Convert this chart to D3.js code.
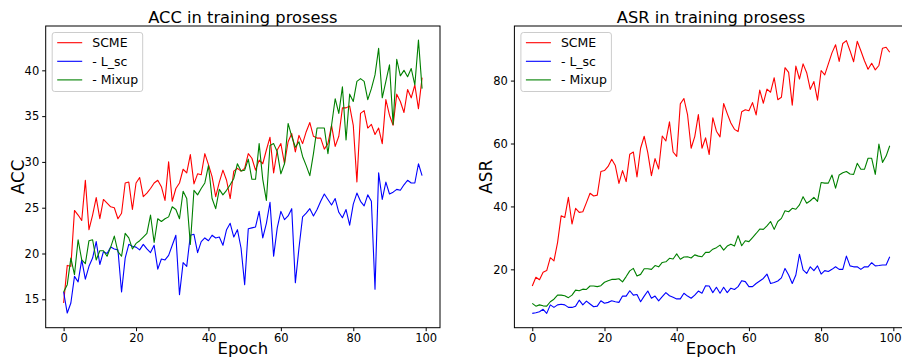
<!DOCTYPE html>
<html>
<head>
<meta charset="utf-8">
<script src="https://cdn.jsdelivr.net/npm/d3@7"></script>
<style>
  body { margin: 0; background: #fff; }
  svg { display: block; font-family: "DejaVu Sans", sans-serif; }
</style>
</head>
<body>
<svg id="chart" width="902" height="358"></svg>
<script>
const epochs = d3.range(100);

const seriesNames = ["SCME", "- L_sc", "- Mixup"];
const xTicks = [0, 20, 40, 60, 80, 100];
const accTicks = [15, 20, 25, 30, 35, 40];
const asrTicks = [20, 40, 60, 80];

const accScme = [
  14.6, 18.7, 18.6, 24.7, 24.2, 23.6, 28.0, 22.6, 24.2, 26.1,
  23.8, 25.9, 25.5, 25.1, 25.0, 23.8, 24.4, 27.7, 27.8, 24.8,
  27.7, 28.3, 26.2, 26.6, 27.1, 27.7, 28.0, 27.3, 25.8, 30.0,
  25.7, 27.1, 27.7, 29.2, 28.8, 30.8, 27.6, 28.7, 28.6, 30.9,
  29.7, 28.4, 26.2, 27.8, 29.1, 28.0, 26.0, 29.0, 29.3, 29.0,
  29.3, 30.9, 30.4, 29.1, 30.2, 29.8, 31.3, 32.7, 28.8, 31.3,
  32.0, 29.8, 32.2, 33.1, 31.1, 32.9, 32.0, 33.3, 34.3, 32.8,
  32.6, 32.6, 31.4, 32.0, 34.0, 31.7, 32.8, 35.9, 35.9, 36.1,
  34.0, 27.8, 35.3, 35.6, 33.7, 34.1, 33.0, 33.7, 32.0, 36.8,
  35.1, 34.0, 37.4, 36.6, 35.4, 37.9, 37.0, 38.4, 35.8, 39.2
];
const accLsc = [
  15.8, 13.5, 14.6, 17.5, 16.9, 19.3, 17.2, 18.6, 19.5, 21.3,
  18.8, 20.2, 20.0, 20.7, 20.5, 20.4, 15.8, 19.5, 21.0, 20.8,
  20.7, 20.4, 21.0, 20.5, 20.1, 20.9, 18.3, 19.4, 19.3, 19.8,
  20.9, 22.0, 15.5, 19.0, 18.6, 22.0, 22.1, 20.1, 21.3, 21.7,
  21.4, 22.0, 21.7, 21.8, 20.9, 22.6, 23.3, 21.8, 22.6, 20.6,
  16.6, 22.7, 22.8, 22.9, 24.6, 21.7, 23.3, 25.6, 19.7, 22.8,
  24.6, 23.7, 24.1, 24.9, 16.8, 20.6, 24.0, 24.4, 24.9, 24.1,
  24.8, 25.7, 26.5, 25.9, 25.3, 26.0, 24.5, 23.9, 24.8, 23.1,
  25.4, 26.6, 25.7, 25.2, 26.4, 25.7, 16.1, 28.8, 25.9, 27.8,
  26.5, 26.7, 27.0, 26.9, 27.5, 28.0, 27.7, 27.7, 29.8, 28.5
];
const accMixup = [
  15.8, 16.6, 19.5, 17.7, 21.5, 19.3, 18.9, 21.4, 21.5, 19.3,
  20.3, 20.3, 19.7, 20.7, 21.9, 20.2, 19.7, 22.2, 21.7, 20.5,
  21.1, 21.4, 21.8, 22.2, 24.2, 21.2, 23.8, 23.5, 23.8, 24.0,
  25.1, 24.8, 23.8, 26.8, 26.0, 21.0, 26.9, 26.4, 27.1, 27.7,
  29.6, 26.0, 24.9, 27.0, 26.4, 26.9, 27.5, 28.2, 29.8, 29.0,
  29.1, 30.3, 28.1, 28.1, 32.0, 28.1, 25.8, 31.8, 32.0, 31.1,
  28.7, 29.8, 34.2, 32.8, 31.6, 32.2, 30.6, 29.6, 28.5, 30.9,
  33.7, 33.7, 33.7, 30.9, 34.0, 36.9, 35.3, 38.2, 32.4, 37.4,
  36.6, 38.8, 39.1, 38.8, 36.8, 38.0, 39.5, 42.4, 37.0, 38.8,
  40.6, 34.1, 41.2, 39.4, 40.0, 39.3, 40.2, 38.4, 43.3, 38.0
];

const asrScme = [
  14.7, 17.5, 16.7, 19.1, 19.6, 23.7, 22.7, 28.5, 37.0, 36.5,
  42.9, 34.4, 39.4, 38.1, 38.3, 41.2, 44.2, 43.3, 43.6, 51.1,
  51.4, 52.7, 55.0, 53.0, 47.3, 51.4, 47.9, 56.6, 57.3, 49.4,
  58.5, 62.3, 57.0, 49.8, 55.2, 51.9, 62.4, 60.8, 66.9, 57.3,
  55.9, 72.6, 74.3, 69.2, 58.5, 62.2, 69.2, 58.5, 61.8, 56.5,
  68.2, 63.9, 62.1, 72.7, 69.5, 66.5, 64.5, 63.8, 70.1, 70.7,
  70.4, 73.0, 69.1, 77.0, 72.8, 77.3, 76.3, 80.9, 73.9, 74.7,
  84.1, 82.6, 72.2, 84.6, 80.5, 85.3, 82.5, 77.2, 79.7, 73.8,
  83.2, 81.8, 85.3, 88.8, 91.4, 86.1, 91.8, 92.7, 89.5, 86.0,
  92.5, 89.5, 86.3, 83.6, 85.5, 83.4, 84.8, 90.3, 90.6, 89.0
];
const asrLsc = [
  6.0, 6.2, 6.5, 7.3, 6.0, 8.7, 7.9, 8.7, 8.9, 8.7,
  7.9, 7.9, 8.3, 10.2, 8.7, 9.9, 9.0, 8.1, 8.3, 10.0,
  9.2, 9.5, 10.0, 9.7, 9.5, 11.5, 11.5, 13.2, 11.8, 12.0,
  9.7, 11.5, 13.1, 10.8, 11.5, 10.0, 11.3, 12.6, 11.6, 11.1,
  10.6, 10.6, 12.4, 11.5, 10.8, 11.8, 13.1, 12.4, 14.8, 14.7,
  12.6, 14.3, 12.4, 14.3, 12.6, 14.0, 13.6, 14.5, 16.4, 16.1,
  14.5, 14.5, 15.5, 16.3, 17.1, 18.5, 15.5, 15.8, 16.3, 17.3,
  20.3, 18.2, 15.5, 18.2, 24.8, 19.8, 18.7, 20.8, 19.6, 21.1,
  18.5, 19.6, 19.3, 20.0, 20.8, 20.0, 20.0, 24.2, 21.1, 20.8,
  20.8, 20.0, 20.8, 20.8, 22.1, 21.1, 21.2, 21.4, 21.4, 24.0
];
const asrMixup = [
  9.2, 8.3, 8.7, 8.4, 8.3, 9.7, 10.5, 11.8, 11.8, 11.6,
  11.0, 11.8, 13.4, 13.2, 13.7, 13.6, 14.7, 14.7, 14.5, 14.8,
  15.9, 16.4, 16.8, 16.8, 17.0, 16.0, 17.7, 19.5, 20.3, 17.9,
  18.4, 20.2, 20.2, 20.0, 21.2, 20.8, 22.2, 22.4, 23.5, 23.3,
  24.9, 23.2, 23.9, 24.0, 23.6, 24.6, 24.2, 24.0, 25.4, 25.4,
  26.4, 26.9, 27.7, 26.1, 27.4, 28.0, 27.4, 30.7, 27.5, 29.1,
  28.8, 30.1, 31.4, 32.8, 32.7, 33.8, 35.2, 32.7, 35.2, 36.2,
  38.6, 38.3, 39.4, 39.1, 40.5, 43.1, 41.0, 41.8, 42.9, 41.6,
  47.6, 47.4, 47.4, 50.0, 45.8, 50.0, 50.7, 51.1, 50.3, 50.2,
  53.7, 51.8, 51.8, 55.3, 55.3, 50.2, 59.8, 54.0, 56.0, 59.3
];

const colors = ["#ff0000", "#0000ff", "#008000"];

const svg = d3.select("#chart");
const svgWidth = +svg.attr("width");

function drawPanel(opts) {
  const { left, top, width, height, yDomain, yTicks, series, title, yLabel, yLabelX } = opts;

  const x = d3.scaleLinear().domain([-4.95, 103.95]).range([left, left + width]);
  const y = d3.scaleLinear().domain(yDomain).range([top + height, top]);

  const g = svg.append("g");

  const line = d3.line()
    .x((d, i) => x(epochs[i]))
    .y((d) => y(d));

  series.forEach((s, i) => {
    g.append("path")
      .datum(s)
      .attr("fill", "none")
      .attr("stroke", colors[i])
      .attr("stroke-width", 1.1)
      .attr("stroke-linejoin", "round")
      .attr("d", line);
  });

  // frame
  g.append("rect")
    .attr("x", left)
    .attr("y", top)
    .attr("width", width)
    .attr("height", height)
    .attr("fill", "none")
    .attr("stroke", "#000")
    .attr("stroke-width", 1);

  const xAxis = g.append("g")
    .attr("transform", `translate(0,${top + height})`)
    .call(d3.axisBottom(x).tickValues(xTicks).tickSize(3.5).tickPadding(3).tickSizeOuter(0));
  xAxis.select(".domain").remove();
  xAxis.selectAll("text").attr("font-size", 11.5).attr("fill", "#000")
    .attr("font-family", "DejaVu Sans");

  // keep a tick label that would spill past the right edge inside the picture
  xAxis.selectAll(".tick text").each(function () {
    const box = this.getBBox();
    const tx = x(+d3.select(this.parentNode).datum());
    const over = tx + box.x + box.width - (svgWidth - 1);
    if (over > 0) d3.select(this).attr("x", -over);
  });

  const yAxis = g.append("g")
    .attr("transform", `translate(${left},0)`)
    .call(d3.axisLeft(y).tickValues(yTicks).tickSize(3.5).tickPadding(3).tickSizeOuter(0));
  yAxis.select(".domain").remove();
  yAxis.selectAll("text").attr("font-size", 11.5).attr("fill", "#000")
    .attr("font-family", "DejaVu Sans");

  g.append("text")
    .attr("x", left + width / 2)
    .attr("y", top - 3)
    .attr("text-anchor", "middle")
    .attr("font-size", 16.3)
    .text(title);

  g.append("text")
    .attr("x", left + width / 2)
    .attr("y", 353.5)
    .attr("text-anchor", "middle")
    .attr("font-size", 16.5)
    .text("Epoch");

  g.append("text")
    .attr("transform", `translate(${yLabelX},${top + height / 2}) rotate(-90)`)
    .attr("text-anchor", "middle")
    .attr("font-size", 16.8)
    .text(yLabel);

  // legend
  const lg = g.append("g").attr("transform", `translate(${left + 6.5},${top + 6.5})`);
  lg.append("rect")
    .attr("width", 90.5)
    .attr("height", 59)
    .attr("rx", 2.5)
    .attr("fill", "#fff")
    .attr("fill-opacity", 0.8)
    .attr("stroke", "#cccccc")
    .attr("stroke-width", 1);

  seriesNames.forEach((name, i) => {
    const rowY = 10.2 + i * 18.6;
    lg.append("line")
      .attr("x1", 5).attr("x2", 30)
      .attr("y1", rowY).attr("y2", rowY)
      .attr("stroke", colors[i])
      .attr("stroke-width", 1.1);
    lg.append("text")
      .attr("x", 40)
      .attr("y", rowY)
      .attr("dy", "0.36em")
      .attr("font-size", 12.5)
      .text(name);
  });
}

drawPanel({
  left: 45.7, top: 26, width: 394.3, height: 301.7,
  yDomain: [11.9, 44.84], yTicks: accTicks,
  series: [accScme, accLsc, accMixup],
  title: "ACC in training prosess", yLabel: "ACC", yLabelX: 23.5
});

drawPanel({
  left: 514.4, top: 26, width: 393.2, height: 301.7,
  yDomain: [1.45, 97.35], yTicks: asrTicks,
  series: [asrScme, asrLsc, asrMixup],
  title: "ASR in training prosess", yLabel: "ASR", yLabelX: 492
});
</script>
</body>
</html>
